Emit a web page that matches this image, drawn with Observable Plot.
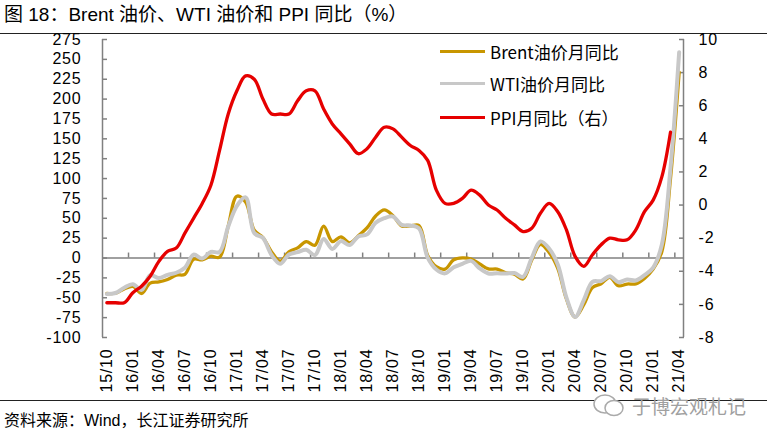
<!DOCTYPE html>
<html><head><meta charset="utf-8">
<script src="https://cdn.jsdelivr.net/npm/d3@7"></script>
<script src="https://cdn.jsdelivr.net/npm/@observablehq/plot@0.6"></script>
<style>
body{margin:0;background:#fff;}
#wrap{position:relative;width:767px;height:437px;overflow:hidden;font-family:"Liberation Sans",Arial,"Noto Sans CJK SC",sans-serif;color:#000;}
#title{position:absolute;left:4px;top:2px;font-size:19px;white-space:nowrap;line-height:26px;}
#tline{position:absolute;left:0;top:33px;width:767px;border-top:1px solid #222;}
#chart{position:absolute;left:0;top:20px;}
.leg{position:absolute;left:440px;height:22px;display:flex;align-items:center;font-family:"Noto Sans CJK SC",sans-serif;font-size:17px;white-space:nowrap;}
.leg span.sw{display:inline-block;width:45px;height:3px;margin-right:5px;}
#fline{position:absolute;left:0;top:400px;width:767px;border-top:1px solid #222;}
#src{position:absolute;left:4px;top:411px;font-size:16px;white-space:nowrap;line-height:20px;}
#wm{position:absolute;left:592px;top:392px;display:flex;align-items:center;color:#a0a0a0;font-family:"Noto Sans CJK SC",sans-serif;font-size:19px;white-space:nowrap;}
</style></head>
<body>
<div id="wrap">
  <div id="title">图 18：Brent 油价、WTI 油价和 PPI 同比（%）</div>
  <div id="tline"></div>
  <div id="chart"></div>
  <div id="legend"></div>
  <div id="fline"></div>
  <div id="src">资料来源：Wind，长江证券研究所</div>
  <div id="wm"><svg width="36" height="26" viewBox="0 0 36 26"><ellipse cx="13" cy="11" rx="11" ry="9" fill="#fff" stroke="#aaa" stroke-width="1.5"/><ellipse cx="22" cy="15" rx="9" ry="7.5" fill="#fff" stroke="#aaa" stroke-width="1.5"/></svg><span style="margin-left:4px">于博宏观札记</span></div>
</div>
<script>
// x categories: monthly 2015-10 .. 2021-04 (67 months), labelled every 3 months
const tickLabels = ["15/10","16/01","16/04","16/07","16/10","17/01","17/04","17/07","17/10","18/01","18/04","18/07","18/10","19/01","19/04","19/07","19/10","20/01","20/04","20/07","20/10","21/01","21/04"];
const leftTicks = [-100,-75,-50,-25,0,25,50,75,100,125,150,175,200,225,250,275];
const rightTicks = [-8,-6,-4,-2,0,2,4,6,8,10];

// Brent 油价月同比 (%), 2015-10 .. 2021-04
const brent = [-44.6,-44.3,-39.0,
 -35.7,-44.6,-31.6,-30.1,-27.1,-21.5,-20.5,-1.5,-2.2,2.3,1.0,40.3,
 77.8,70.5,35.0,25.8,7.7,-3.9,7.9,12.8,20.6,16.1,40.2,20.7,
 26.6,19.0,28.0,37.9,52.9,60.5,53.2,40.3,40.5,40.9,3.3,-10.9,
 -14.0,-2.1,0.2,-1.2,-7.4,-13.7,-13.9,-18.6,-20.4,-26.3,-2.4,17.3,
 7.1,-13.0,-51.6,-74.2,-58.8,-37.3,-32.4,-24.2,-34.9,-32.7,-32.5,-25.7,
 -14.0,8.0,100.0,234.0];
// WTI 油价月同比 (%), 2015-10 .. 2021-04
const wti = [-45.2,-44.0,-37.3,
 -32.9,-40.1,-21.5,-25.2,-21.2,-18.5,-12.3,4.3,-0.7,7.7,7.6,39.7,
 65.7,76.4,31.4,25.3,3.8,-7.3,4.4,7.4,10.3,3.6,24.0,11.4,
 21.3,16.4,27.2,29.7,44.3,50.2,52.2,41.7,41.0,37.2,0.6,-14.4,
 -19.3,-11.7,-7.3,-3.6,-13.1,-19.5,-19.2,-19.5,-18.9,-23.7,0.1,20.9,
 12.0,-8.0,-49.8,-74.1,-53.0,-29.9,-29.0,-22.8,-30.4,-27.0,-28.2,-21.5,
 -12.0,16.8,113.0,259.0];
// PPI 月同比 (%, 右轴), 2015-10 .. 2021-03
const ppi = [-5.9,-5.9,-5.9,
 -5.3,-4.9,-4.3,-3.4,-2.8,-2.6,-1.7,-0.8,0.1,1.2,3.3,5.5,
 6.9,7.8,7.6,6.4,5.5,5.5,5.5,6.3,6.9,6.9,5.8,4.9,
 4.3,3.7,3.1,3.4,4.1,4.7,4.6,4.1,3.6,3.3,2.7,0.9,
 0.1,0.1,0.4,0.9,0.6,0.0,-0.3,-0.8,-1.2,-1.6,-1.4,-0.5,
 0.1,-0.4,-1.5,-3.1,-3.7,-3.0,-2.4,-2.0,-2.1,-2.1,-1.5,-0.4,
 0.3,1.7,4.4];

const seriesNames = ["Brent油价月同比","WTI油价月同比","PPI月同比（右）"];
const colors = ["#C89600","#C8C8C8","#E60000"];

const nMonths = brent.length;
const leftDom = [-100, 275], rightDom = [-8, 10];
const toLeft = v => leftDom[0] + (v - rightDom[0]) * (leftDom[1]-leftDom[0])/(rightDom[1]-rightDom[0]);
const fromLeft = v => rightDom[0] + (v - leftDom[0]) * (rightDom[1]-rightDom[0])/(leftDom[1]-leftDom[0]);
const labelIdx = tickLabels.map((_, i) => i*3);
const tickBounds = d3.range(3, nMonths, 3).map(k => k - 0.5);
const axisColor = "#808080";

const chart = Plot.plot({
  width: 767, height: 380,
  marginTop: 19, marginBottom: 63, marginLeft: 102, marginRight: 84,
  x: {domain: [-0.5, nMonths - 0.5], axis: null},
  y: {domain: leftDom, axis: null},
  style: {fontFamily: '"Liberation Sans", Arial, sans-serif', fontSize: "16px", letterSpacing: "0.8px", color: "#000", background: "transparent", overflow: "visible"},
  marks: [
    Plot.ruleX([-0.5, nMonths - 0.5], {stroke: axisColor, strokeWidth: 1.5}),
    Plot.ruleY([0], {stroke: axisColor, strokeWidth: 1.5}),
    Plot.ruleX(tickBounds, {x: d => d, y1: 0, y2: 0, insetTop: -5, stroke: axisColor, strokeWidth: 1.5}),
    Plot.axisY(leftTicks, {anchor: "left", tickSize: -5, tickPadding: 26, stroke: axisColor, strokeWidth: 1.5, fill: "#000", label: null, tickFormat: d => String(d)}),
    Plot.axisY(rightTicks.map(toLeft), {anchor: "right", tickSize: -5, tickPadding: 20, stroke: axisColor, strokeWidth: 1.5, fill: "#000", label: null, tickFormat: d => String(Math.round(fromLeft(d)))}),
    Plot.axisX(labelIdx, {anchor: "bottom", tickSize: 0, tickPadding: 11, tickRotate: -90, fill: "#000", label: null, tickFormat: d => tickLabels[d/3]}),
    Plot.lineY(brent, {x: (d, i) => i, y: d => d, stroke: colors[0], strokeWidth: 3.3, curve: "catmull-rom"}),
    Plot.lineY(wti, {x: (d, i) => i, y: d => d, stroke: colors[1], strokeWidth: 4, curve: "catmull-rom"}),
    Plot.lineY(ppi, {x: (d, i) => i, y: d => toLeft(d), stroke: colors[2], strokeWidth: 3.3, curve: "catmull-rom"})
  ]
});
document.getElementById("chart").appendChild(chart);

const legendTops = [40, 72, 106];
const leg = document.getElementById("legend");
seriesNames.forEach((name, i) => {
  const row = document.createElement("div");
  row.className = "leg";
  row.style.top = legendTops[i] + "px";
  const sw = document.createElement("span");
  sw.className = "sw";
  sw.style.background = colors[i];
  row.appendChild(sw);
  row.appendChild(document.createTextNode(name));
  leg.appendChild(row);
});
</script>
</body></html>
